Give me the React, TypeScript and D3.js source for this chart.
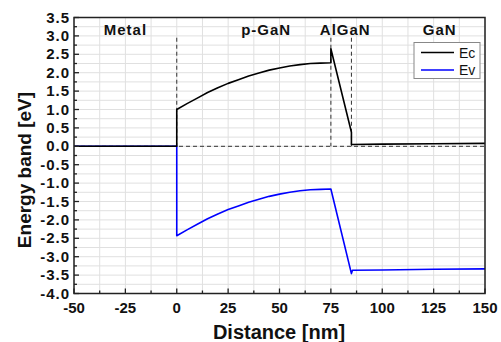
import { useEffect, useRef } from 'react'
import * as d3 from 'd3'

// Distance [nm] and energies [eV]
const ecX = [-50, 0, 0, 5, 10, 15, 20, 25, 30, 35, 40, 45, 50, 55, 60, 65, 70, 75, 75, 85, 85, 100, 125, 150]
const ecY = [0, 0, 1.0, 1.16, 1.31, 1.46, 1.59, 1.71, 1.81, 1.91, 1.99, 2.07, 2.13, 2.18, 2.22, 2.25, 2.26, 2.27, 2.65, 0.38, 0.05, 0.06, 0.07, 0.08]
const evX = [-50, 0, 0, 5, 10, 15, 20, 25, 30, 35, 40, 45, 50, 55, 60, 65, 70, 75, 85, 85.5, 100, 125, 150]
const evY = [0, 0, -2.43, -2.27, -2.12, -1.97, -1.84, -1.72, -1.62, -1.52, -1.44, -1.36, -1.3, -1.25, -1.21, -1.18, -1.17, -1.16, -3.46, -3.37, -3.36, -3.34, -3.33]

const boundaries = [0, 75, 85]
const regionNames = ['Metal', 'p-GaN', 'AlGaN', 'GaN']
const regionCenters = [-25, 43.5, 82, 128]

const seriesNames = ['Ec', 'Ev']
const seriesColors = ['#000000', '#0000ff']

const xTicks = [-50, -25, 0, 25, 50, 75, 100, 125, 150]
const yTicks = [3.5, 3.0, 2.5, 2.0, 1.5, 1.0, 0.5, 0.0, -0.5, -1.0, -1.5, -2.0, -2.5, -3.0, -3.5, -4.0]

export default function App() {
  const svgRef = useRef<SVGSVGElement>(null)
  const width = 501
  const height = 342

  useEffect(() => {
    if (!svgRef.current) return
    const svg = d3.select(svgRef.current)
    svg.selectAll('*').remove()

    const left = 74
    const right = 485
    const top = 17.5
    const bottom = 293.5

    const x = d3.scaleLinear().domain([-50, 150]).range([left, right])
    const y = d3.scaleLinear().domain([-4, 3.5]).range([bottom, top])
    const font = 'Liberation Sans, Arial, sans-serif'

    svg.append('rect').attr('width', width).attr('height', height).attr('fill', 'white')

    // grid
    const grid = svg.append('g')
    d3.range(-50, 150.1, 12.5).forEach((v) => {
      grid.append('line')
        .attr('x1', x(v)).attr('x2', x(v))
        .attr('y1', top).attr('y2', bottom)
        .attr('stroke', '#e0e0e0').attr('stroke-width', 1)
    })
    d3.range(-4, 3.51, 0.25).forEach((v) => {
      grid.append('line')
        .attr('x1', left).attr('x2', right)
        .attr('y1', y(v)).attr('y2', y(v))
        .attr('stroke', '#e0e0e0').attr('stroke-width', 1)
    })

    // dashed reference lines
    svg.append('line')
      .attr('x1', x(-50)).attr('x2', x(150))
      .attr('y1', y(0)).attr('y2', y(0))
      .attr('stroke', '#333').attr('stroke-width', 1)
      .attr('stroke-dasharray', '4,3')
    boundaries.forEach((b) => {
      svg.append('line')
        .attr('x1', x(b)).attr('x2', x(b))
        .attr('y1', y(2.95)).attr('y2', y(0))
        .attr('stroke', '#333').attr('stroke-width', 1)
        .attr('stroke-dasharray', '4,3')
    })

    const line = d3.line<[number, number]>()
      .x((d) => x(d[0]))
      .y((d) => y(d[1]))

    const evData = evX.map((v, i) => [v, evY[i]] as [number, number])
    const ecData = ecX.map((v, i) => [v, ecY[i]] as [number, number])

    svg.append('path')
      .attr('d', line(evData) || '')
      .attr('fill', 'none')
      .attr('stroke', seriesColors[1])
      .attr('stroke-width', 1.6)
      .attr('stroke-linejoin', 'round')
    svg.append('path')
      .attr('d', line(ecData) || '')
      .attr('fill', 'none')
      .attr('stroke', seriesColors[0])
      .attr('stroke-width', 1.6)
      .attr('stroke-linejoin', 'round')

    // frame
    svg.append('rect')
      .attr('x', left).attr('y', top)
      .attr('width', right - left).attr('height', bottom - top)
      .attr('fill', 'none').attr('stroke', '#222').attr('stroke-width', 1.5)

    // ticks (inward)
    const ticks = svg.append('g').attr('stroke', '#222').attr('stroke-width', 1.3)
    d3.range(-50, 150.1, 12.5).forEach((v) => {
      const major = v % 25 === 0
      ticks.append('line')
        .attr('x1', x(v)).attr('x2', x(v))
        .attr('y1', bottom).attr('y2', bottom - (major ? 5 : 3))
    })
    d3.range(-4, 3.51, 0.25).forEach((v) => {
      const major = Math.abs(v * 2 - Math.round(v * 2)) < 1e-6
      ticks.append('line')
        .attr('x1', left).attr('x2', left + (major ? 5 : 3))
        .attr('y1', y(v)).attr('y2', y(v))
    })

    // tick labels
    svg.append('g').selectAll('text').data(xTicks).enter().append('text')
      .attr('x', (d) => x(d)).attr('y', bottom + 19)
      .attr('text-anchor', 'middle')
      .attr('font-family', font).attr('font-weight', 'bold').attr('font-size', 15)
      .attr('fill', '#111')
      .text((d) => String(d))
    svg.append('g').selectAll('text').data(yTicks).enter().append('text')
      .attr('x', left - 4).attr('y', (d) => y(d) + 5)
      .attr('text-anchor', 'end')
      .attr('font-family', font).attr('font-weight', 'bold').attr('font-size', 15)
      .attr('letter-spacing', 1)
      .attr('fill', '#111')
      .text((d) => d.toFixed(1))

    // axis titles
    svg.append('text')
      .attr('x', 279).attr('y', 339)
      .attr('text-anchor', 'middle')
      .attr('font-family', font).attr('font-weight', 'bold').attr('font-size', 20)
      .attr('fill', '#111')
      .text('Distance [nm]')
    svg.append('text')
      .attr('transform', 'translate(31, 170) rotate(-90)')
      .attr('text-anchor', 'middle')
      .attr('font-family', font).attr('font-weight', 'bold').attr('font-size', 19)
      .attr('fill', '#111')
      .text('Energy band [eV]')

    // region names
    svg.append('g').selectAll('text').data(regionNames).enter().append('text')
      .attr('x', (_, i) => x(regionCenters[i])).attr('y', 34.5)
      .attr('text-anchor', 'middle')
      .attr('font-family', font).attr('font-weight', 'bold').attr('font-size', 15)
      .attr('letter-spacing', 1)
      .attr('fill', '#111')
      .text((d) => d)

    // legend
    const legend = svg.append('g').attr('transform', 'translate(414, 42.5)')
    legend.append('rect')
      .attr('width', 66).attr('height', 36)
      .attr('fill', 'white').attr('stroke', '#888').attr('stroke-width', 1)
    seriesNames.forEach((name, i) => {
      legend.append('line')
        .attr('x1', 7).attr('x2', 40)
        .attr('y1', 10 + i * 17.5).attr('y2', 10 + i * 17.5)
        .attr('stroke', seriesColors[i]).attr('stroke-width', 1.5)
      legend.append('text')
        .attr('x', 45).attr('y', 15 + i * 17.5)
        .attr('font-family', font).attr('font-size', 14)
        .attr('fill', '#111')
        .text(name)
    })
  }, [])

  return (
    <svg
      ref={svgRef}
      width={width}
      height={height}
      style={{ position: 'absolute', left: 0, top: 0 }}
    />
  )
}
